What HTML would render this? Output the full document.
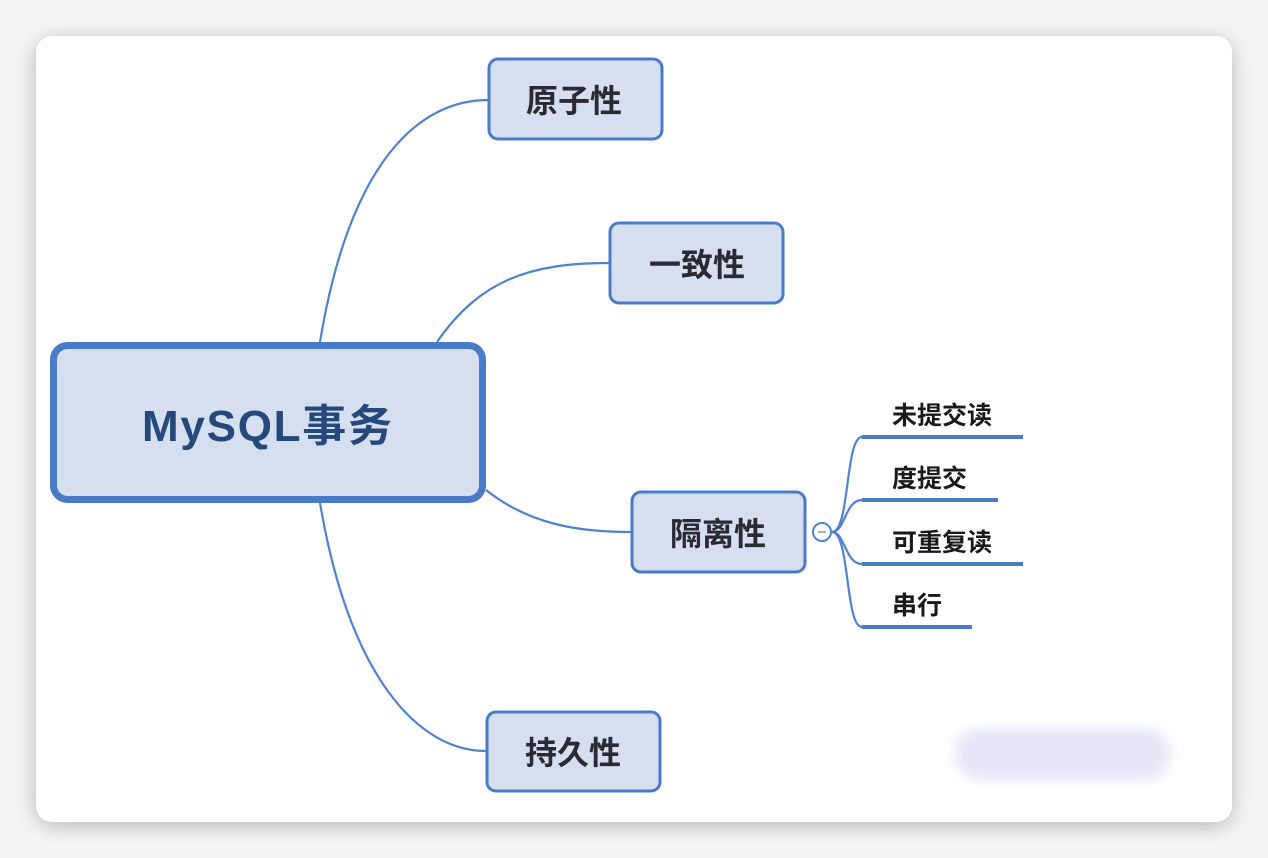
<!DOCTYPE html>
<html><head><meta charset="utf-8"><style>
html,body{margin:0;padding:0;width:1268px;height:858px;overflow:hidden;background:#f3f3f3;}
text{font-family:"Liberation Sans","Noto Sans CJK SC",sans-serif;}
</style></head><body>
<svg width="1268" height="858" xmlns="http://www.w3.org/2000/svg">
<defs>
<filter id="sh" x="-10%" y="-10%" width="120%" height="120%"><feGaussianBlur stdDeviation="10"/></filter>
<filter id="bl"><feGaussianBlur stdDeviation="6"/></filter>
</defs>
<rect x="0" y="0" width="1268" height="858" fill="#f4f4f4"/>
<rect x="36" y="40" width="1196" height="786" rx="18" fill="#000" opacity="0.25" filter="url(#sh)"/>
<rect x="36" y="36" width="1196" height="786" rx="16" fill="#fff"/>
<g fill="none" stroke="#4f82cf" stroke-width="2.2">
<path d="M320 342 C350 160 420 100 488 100"/>
<path d="M437 342 C480 280 530 263 609 263"/>
<path d="M486 490 C530 525 580 532 631 532"/>
<path d="M320 503 C350 680 420 751 486 751"/>
<path d="M832 532 C850 532 845 437 862 437"/>
<path d="M832 532 C845 532 845 500 862 500"/>
<path d="M832 532 C845 532 845 564 862 564"/>
<path d="M832 532 C850 532 845 627 862 627"/>
</g>
<g stroke="#4a7bc8" stroke-width="4">
<line x1="862" y1="437" x2="1023" y2="437"/>
<line x1="862" y1="500" x2="998" y2="500"/>
<line x1="862" y1="564" x2="1023" y2="564"/>
<line x1="862" y1="627" x2="972" y2="627"/>
</g>
<circle cx="822" cy="532" r="9" fill="#fff" stroke="#4f82cf" stroke-width="2"/>
<line x1="818" y1="532" x2="826" y2="532" stroke="#8a8ab0" stroke-width="1.5"/>
<rect x="53.5" y="345.5" width="429" height="154" rx="14" fill="#d6dff0" stroke="#4a7bc8" stroke-width="7"/>
<text x="267" y="441" text-anchor="middle" font-size="44" font-weight="bold" fill="#24497a" textLength="250">MySQL事务</text>
<g fill="#d6dff0" stroke="#4a7bc8" stroke-width="3">
<rect x="489" y="59" width="173" height="80" rx="9"/>
<rect x="610" y="223" width="173" height="80" rx="9"/>
<rect x="632" y="492" width="173" height="80" rx="9"/>
<rect x="487" y="712" width="173" height="79" rx="9"/>
</g>
<g font-size="32" font-weight="bold" fill="#2a2a35" text-anchor="middle">
<text x="574" y="112">原子性</text>
<text x="697" y="276">一致性</text>
<text x="718" y="545">隔离性</text>
<text x="573" y="764">持久性</text>
</g>
<g font-size="25" font-weight="bold" fill="#1a1a1a">
<text x="892" y="424">未提交读</text>
<text x="892" y="487">度提交</text>
<text x="892" y="551">可重复读</text>
<text x="892" y="614">串行</text>
</g>
<rect x="955" y="728" width="215" height="52" rx="26" fill="#e6e6f7" filter="url(#bl)"/>
</svg>
</body></html>
